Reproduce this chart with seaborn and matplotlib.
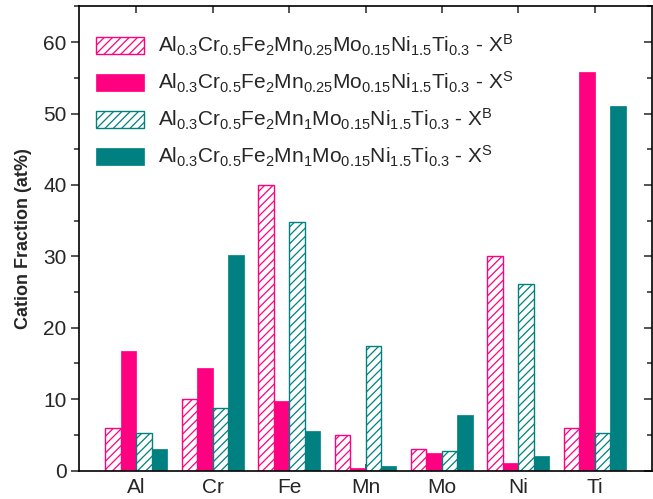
import matplotlib
matplotlib.use("Agg")
import matplotlib.pyplot as plt
from matplotlib.ticker import MultipleLocator
import seaborn as sns
import pandas as pd

sns.set_theme(style="white")
plt.rcParams["font.family"] = ["Liberation Sans", "DejaVu Sans"]
plt.rcParams["mathtext.fontset"] = "custom"
plt.rcParams["mathtext.rm"] = "Liberation Sans"
plt.rcParams["mathtext.it"] = "Liberation Sans:italic"
plt.rcParams["mathtext.bf"] = "Liberation Sans:bold"
plt.rcParams["hatch.linewidth"] = 0.9

# cation fractions (at%) per element
elements = ["Al", "Cr", "Fe", "Mn", "Mo", "Ni", "Ti"]
mn025_bulk = [6.0, 10.0, 40.0, 5.0, 3.0, 30.0, 6.0]
mn025_surface = [16.7, 14.4, 9.8, 0.3, 2.45, 1.0, 55.8]
mn1_bulk = [5.2, 8.7, 34.8, 17.4, 2.7, 26.1, 5.2]
mn1_surface = [3.0, 30.2, 5.5, 0.7, 7.8, 2.0, 51.0]

series_labels = [
    r"Al$_\mathregular{0.3}$Cr$_\mathregular{0.5}$Fe$_\mathregular{2}$Mn$_\mathregular{0.25}$Mo$_\mathregular{0.15}$Ni$_\mathregular{1.5}$Ti$_\mathregular{0.3}$ - X$^\mathregular{B}$",
    r"Al$_\mathregular{0.3}$Cr$_\mathregular{0.5}$Fe$_\mathregular{2}$Mn$_\mathregular{0.25}$Mo$_\mathregular{0.15}$Ni$_\mathregular{1.5}$Ti$_\mathregular{0.3}$ - X$^\mathregular{S}$",
    r"Al$_\mathregular{0.3}$Cr$_\mathregular{0.5}$Fe$_\mathregular{2}$Mn$_\mathregular{1}$Mo$_\mathregular{0.15}$Ni$_\mathregular{1.5}$Ti$_\mathregular{0.3}$ - X$^\mathregular{B}$",
    r"Al$_\mathregular{0.3}$Cr$_\mathregular{0.5}$Fe$_\mathregular{2}$Mn$_\mathregular{1}$Mo$_\mathregular{0.15}$Ni$_\mathregular{1.5}$Ti$_\mathregular{0.3}$ - X$^\mathregular{S}$",
]
series_values = [mn025_bulk, mn025_surface, mn1_bulk, mn1_surface]

PINK = "#ff0080"
TEAL = "#008080"
series_colors = [PINK, PINK, TEAL, TEAL]
series_hatched = [True, False, True, False]

rows = []
for name, vals in zip(series_labels, series_values):
    for el, v in zip(elements, vals):
        rows.append({"element": el, "series": name, "value": v})
df = pd.DataFrame(rows)

fig = plt.figure(figsize=(6.53, 4.99), dpi=100)
ax = fig.add_axes([0.121, 0.057, 0.8775, 0.930])

sns.barplot(data=df, x="element", y="value", hue="series", order=elements,
            hue_order=series_labels, palette=dict(zip(series_labels, series_colors)),
            saturation=1, width=0.81, errorbar=None, legend=False, ax=ax)

for cont, color, hatched in zip(ax.containers, series_colors, series_hatched):
    for patch in cont.patches:
        if hatched:
            patch.set_facecolor("white")
            patch.set_edgecolor(color)
            patch.set_hatch("////")
            patch.set_linewidth(1.0)
        else:
            patch.set_facecolor(color)
            patch.set_edgecolor(color)
            patch.set_linewidth(0.5)

ax.set_xlim(-0.75, 6.75)
ax.set_ylim(0, 65)
ax.yaxis.set_major_locator(MultipleLocator(10))
ax.yaxis.set_minor_locator(MultipleLocator(5))

for sp in ax.spines.values():
    sp.set_visible(True)
    sp.set_color("black")
    sp.set_linewidth(1.2)

ax.tick_params(axis="y", which="both", left=True, right=True, labelsize=15, pad=3)
ax.tick_params(axis="y", which="major", length=6, width=1.1, direction="out")
ax.tick_params(axis="y", which="minor", length=3.5, width=1.1, direction="out")
ax.tick_params(axis="x", which="major", bottom=True, top=True, direction="in",
               length=5, width=1.1, labelsize=15, pad=5)
# right-hand ticks point inward
for t in ax.yaxis.get_major_ticks():
    t.tick2line.set_marker(matplotlib.lines.TICKLEFT)
    t.tick2line.set_markersize(6)
for t in ax.yaxis.get_minor_ticks():
    t.tick2line.set_marker(matplotlib.lines.TICKLEFT)
    t.tick2line.set_markersize(3.5)

ax.set_xlabel("")
ax.set_ylabel("Cation Fraction (at%)", fontsize=13, fontweight="bold", labelpad=8)

ax.legend(ax.containers, series_labels, loc="upper left", frameon=False,
          fontsize=15, handlelength=2.3, handleheight=0.87, handletextpad=0.67,
          labelspacing=0.57, borderaxespad=0.4, bbox_to_anchor=(0.0, 0.979))

fig.savefig("out.png", dpi=100)
